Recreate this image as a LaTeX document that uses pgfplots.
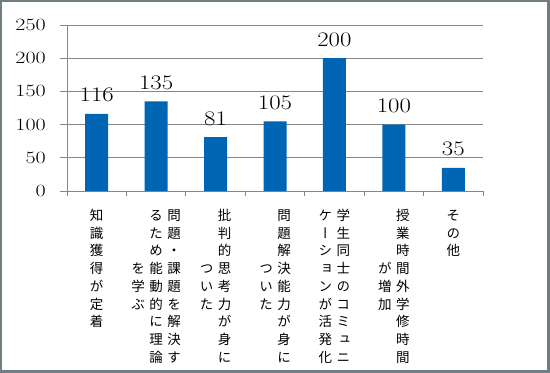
\documentclass[border=0pt]{standalone}
\usepackage{graphicx}
\usepackage{fontspec}
\usepackage{pgfplots}
\pgfplotsset{compat=1.18}
\newfontfamily\jp[RawFeature=+vert]{Noto Sans CJK JP}
\definecolor{barblue}{RGB}{0,102,179}
\definecolor{framegray}{RGB}{112,125,130}
\definecolor{gridgray}{RGB}{134,134,134}
\ExplSyntaxOn
\seq_new:N \l_vc_seq
\NewDocumentCommand\vcol{m}{
  \seq_clear:N \l_vc_seq
  \tl_map_inline:nn {#1} { \seq_put_right:Nn \l_vc_seq {##1} }
  \begin{tabular}[c]{@{}c@{}} \seq_use:Nn \l_vc_seq {\\} \end{tabular}
}
\ExplSyntaxOff
\newcommand\cs{\hspace{4.5bp}}
\begin{document}
\begin{tikzpicture}
\path[use as bounding box] (0,0) rectangle (550bp,-373bp);
\fill[framegray] (0,0) rectangle (550bp,-373bp);
\fill[white] (2bp,-2bp) rectangle (547bp,-370bp);
\begin{axis}[
  at={(67bp,-191bp)}, anchor=south west,
  scale only axis, width=416bp, height=166bp,
  xmin=-0.5, xmax=6.5, ymin=0, ymax=250,
  ytick={0,50,...,250},
  xtick={0,...,6},
  minor xtick={-0.5,0.5,...,6.5},
  axis x line*=bottom, axis y line*=left,
  axis line style={gridgray, line width=0.8bp},
  ymajorgrids, grid style={gridgray, line width=0.8bp},
  tick align=outside,
  major x tick style={draw=none},
  minor x tick style={gridgray, line width=0.8bp},
  minor tick length=5bp,
  major tick length=7bp,
  y tick style={gridgray, line width=0.8bp},
  yticklabel={\scalebox{1.28}[1]{$\pgfmathprintnumber{\tick}$}},
  yticklabel style={font=\fontsize{17bp}{17bp}\selectfont, anchor=east, inner sep=0pt, xshift=-14bp},
  xticklabels={
    {\vcol{知識獲得が定着}},
    {\mbox{\vcol{を学ぶ}\cs\vcol{るため能動的に理論}\cs\vcol{問題・課題を解決す}}},
    {\mbox{\vcol{ついた}\cs\vcol{批判的思考力が身に}}},
    {\mbox{\vcol{ついた}\cs\vcol{問題解決能力が身に}}},
    {\mbox{\vcol{ケーションが活発化}\cs\vcol{学生同士のコミュニ}}},
    {\mbox{\vcol{が増加}\cs\vcol{授業時間外学修時間}}},
    {\vcol{その他}}
  },
  xticklabel style={font=\jp\fontsize{13.5bp}{17.7bp}\selectfont, anchor=north, inner sep=0pt, yshift=-10bp},
  ybar, bar width=23bp,
  nodes near coords={\scalebox{1.2}[1]{$\pgfmathprintnumber{\pgfplotspointmeta}$}},
  nodes near coords style={font=\fontsize{19.5bp}{19.5bp}\selectfont, anchor=south, inner sep=0pt, yshift=12bp, black},
]
\addplot[fill=barblue, draw=none] coordinates {(0,116) (1,135) (2,81) (3,105) (4,200) (5,100) (6,35)};
\end{axis}
\end{tikzpicture}
\end{document}
